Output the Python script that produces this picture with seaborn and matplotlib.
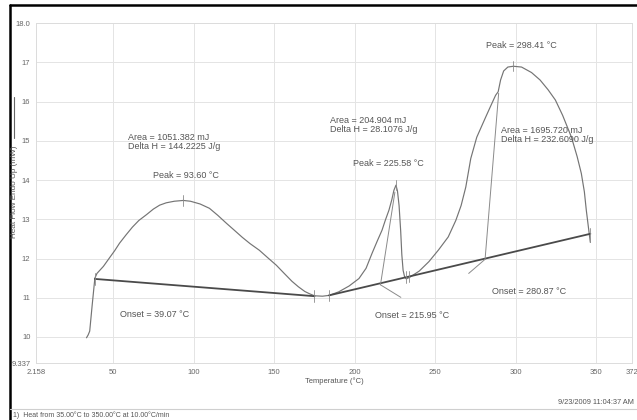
import numpy as np
import pandas as pd
import seaborn as sns
import matplotlib
matplotlib.use("Agg")
import matplotlib.pyplot as plt
from matplotlib.lines import Line2D

# DSC heat-flow trace (temperature in °C, heat flow in mW)
temperature = [33.5, 34.5, 35.5, 37.0, 38.7, 40.0, 44.0, 48.0, 51.0, 54.0, 58.0, 62.0,
               66.0, 70.8, 75.0, 78.9, 83.0, 88.0, 93.6, 98.0, 104.0, 109.8, 115.0,
               120.3, 125.0, 130.2, 135.0, 140.8, 146.0, 151.3, 156.0, 161.0, 165.0,
               169.0, 172.0, 175.0, 180.0, 184.0, 190.0, 196.5, 202.6, 207.0, 210.7,
               214.0, 216.9, 219.0, 221.2, 223.0, 224.3, 225.58, 226.5, 227.5, 228.5,
               229.2, 230.0, 231.0, 232.0, 234.0, 240.0, 246.0, 252.0, 258.0, 262.7,
               266.0, 268.9, 272.0, 275.7, 278.5, 281.2, 284.5, 287.4, 289.0, 290.5,
               292.4, 295.0, 298.41, 303.5, 309.7, 315.0, 320.0, 324.5, 329.0, 334.5,
               338.0, 340.6, 342.5, 343.7, 345.0, 346.2]
heat_flow = [9.98, 10.05, 10.15, 10.80, 11.50, 11.62, 11.80, 12.03, 12.20, 12.39, 12.60, 12.80,
             12.97, 13.12, 13.26, 13.36, 13.42, 13.46, 13.48, 13.46, 13.39, 13.28, 13.10,
             12.90, 12.73, 12.54, 12.38, 12.21, 12.02, 11.83, 11.63, 11.42, 11.28,
             11.16, 11.10, 11.05, 11.04, 11.06, 11.15, 11.30, 11.49, 11.75, 12.13,
             12.45, 12.72, 12.98, 13.23, 13.50, 13.74, 13.87, 13.72, 13.35, 12.70,
             12.10, 11.70, 11.52, 11.48, 11.52, 11.68, 11.92, 12.22, 12.55, 12.97,
             13.35, 13.82, 14.55, 15.09, 15.35, 15.60, 15.90, 16.16, 16.25, 16.55,
             16.78, 16.88, 16.90, 16.88, 16.74, 16.55, 16.30, 16.04, 15.65, 15.09,
             14.60, 14.17, 13.70, 13.23, 12.80, 12.41]

# integration baselines
base1_t = [38.7, 175.0]
base1_y = [11.48, 11.04]
base2_t = [184.0, 346.2]
base2_y = [11.06, 12.63]

# onset tangent constructions
tan2_t = [215.95, 224.9]
tan2_y = [11.33, 13.69]
ext2_t = [215.95, 228.6]
ext2_y = [11.33, 11.01]
tan3_t = [280.87, 289.3]
tan3_y = [11.98, 16.21]
ext3_t = [280.87, 270.7]
ext3_y = [11.98, 11.62]

peaks_t = [93.60, 225.58, 298.41]
peaks_y = [13.48, 13.87, 16.90]
onsets = [39.07, 215.95, 280.87]

x_ticks = [2.158, 50, 100, 150, 200, 250, 300, 350, 372]
x_labels = ["2.158", "50", "100", "150", "200", "250", "300", "350", "372"]
y_ticks = [9.337, 10, 11, 12, 13, 14, 15, 16, 17, 18.0]
y_labels = ["9.337", "10", "11", "12", "13", "14", "15", "16", "17", "18.0"]

sns.set_theme(style="white")
plt.rcParams["font.family"] = ["Liberation Sans", "DejaVu Sans"]

fig = plt.figure(figsize=(6.37, 4.20), dpi=100)
ax = fig.add_axes([0.0565, 0.1357, 0.9355, 0.8093])

curve = pd.DataFrame({"T": temperature, "Q": heat_flow})
sns.lineplot(data=curve, x="T", y="Q", sort=False, estimator=None,
             color="#747474", lw=0.85, ax=ax)
for bt, by in [(base1_t, base1_y), (base2_t, base2_y)]:
    sns.lineplot(x=bt, y=by, sort=False, estimator=None, color="#4a4a4a", lw=1.3, ax=ax)
for lt, ly in [(tan2_t, tan2_y), (ext2_t, ext2_y), (tan3_t, tan3_y), (ext3_t, ext3_y)]:
    sns.lineplot(x=lt, y=ly, sort=False, estimator=None, color="#8a8a8a", lw=0.7, ax=ax)

# small vertical markers at peaks and integration limits
for pt, py in zip(peaks_t, peaks_y):
    ax.plot([pt, pt], [py - 0.13, py + 0.13], color="#8a8a8a", lw=0.6)
limit_pts = [(38.7, 11.48), (175.0, 11.04), (184.0, 11.06), (231.7, 11.52),
             (233.6, 11.54), (346.2, 12.63)]
for lt, ly in limit_pts:
    ax.plot([lt, lt], [ly - 0.15, ly + 0.15], color="#8a8a8a", lw=0.6)

ax.set_xlim(2.158, 372)
ax.set_ylim(9.337, 18.0)
ax.set_xticks(x_ticks)
ax.set_xticklabels(x_labels)
ax.set_yticks(y_ticks)
ax.set_yticklabels(y_labels)
ax.grid(True, color="#e4e4e4", lw=0.7)
for s in ax.spines.values():
    s.set_color("#dcdcdc")
    s.set_linewidth(0.7)
ax.tick_params(axis="both", labelsize=5.5, labelcolor="#666666", length=0, pad=4)
ax.set_xlabel("Temperature (°C)", fontsize=5.5, color="#555555", labelpad=1)
ax.set_ylabel("")

txt = dict(fontsize=6.5, color="#555555", va="center", ha="left")
ax.text(59.1, 14.98, "Area = 1051.382 mJ\nDelta H = 144.2225 J/g", linespacing=1.0, **txt)
ax.text(74.6, 14.12, f"Peak = {peaks_t[0]:.2f} °C", **txt)
ax.text(184.7, 15.40, "Area = 204.904 mJ\nDelta H = 28.1076 J/g", linespacing=1.0, **txt)
ax.text(198.9, 14.43, f"Peak = {peaks_t[1]:.2f} °C", **txt)
ax.text(281.2, 17.44, f"Peak = {peaks_t[2]:.2f} °C", **txt)
ax.text(290.5, 15.16, "Area = 1695.720 mJ\nDelta H = 232.6090 J/g", linespacing=1.0, **txt)
ax.text(54.1, 10.58, f"Onset = {onsets[0]:.2f} °C", **txt)
ax.text(212.6, 10.55, f"Onset = {onsets[1]:.2f} °C", **txt)
ax.text(285.0, 11.16, f"Onset = {onsets[2]:.2f} °C", **txt)

# y-axis title with its legend stroke
fig.text(14 / 637, 1 - 192 / 420, "Heat Flow Endo Up (mW)", rotation=90,
         fontsize=5.9, color="#555555", ha="center", va="center")
fig.add_artist(Line2D([14 / 637, 14 / 637], [1 - 97 / 420, 1 - 138 / 420],
                      color="#666666", lw=0.8))

# page frame, separator and footer
fig.add_artist(Line2D([10 / 637, 10 / 637], [0, 1 - 5 / 420], color="black", lw=1.8))
fig.add_artist(Line2D([10 / 637, 1], [1 - 5 / 420, 1 - 5 / 420], color="black", lw=1.8))
fig.add_artist(Line2D([10 / 637, 1], [1 - 409 / 420, 1 - 409 / 420], color="#cfcfcf", lw=0.8))
fig.text(634 / 637, 1 - 403 / 420, "9/23/2009 11:04:37 AM", fontsize=5.3,
         color="#555555", ha="right", va="center")
fig.text(13 / 637, 1 - 415 / 420, "1)  Heat from 35.00°C to 350.00°C at 10.00°C/min",
         fontsize=5.0, color="#555555", ha="left", va="center")

fig.savefig("out.png", dpi=100)
